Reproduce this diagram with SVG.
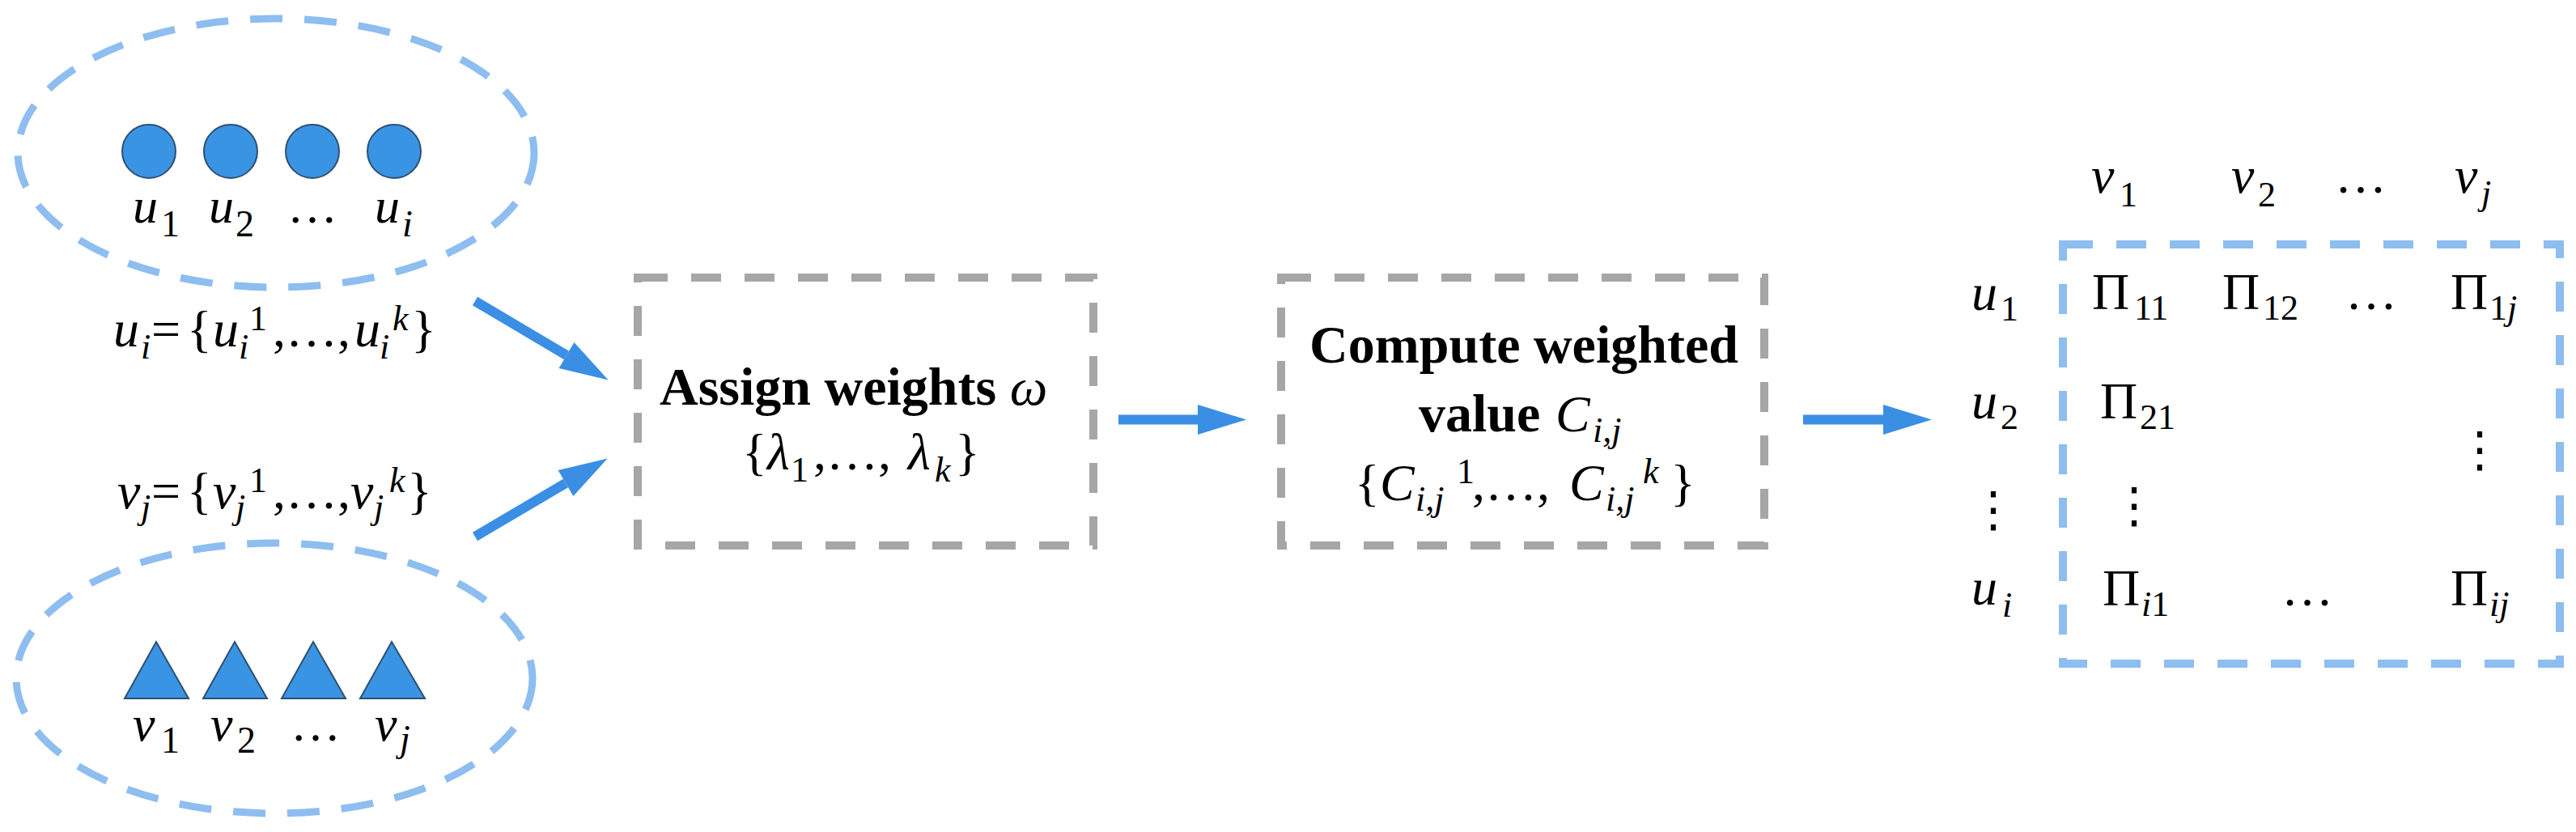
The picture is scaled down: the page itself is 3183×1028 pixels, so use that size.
<svg xmlns="http://www.w3.org/2000/svg" width="3183" height="1028" viewBox="0 0 3183 1028">
<style>
.m{font-family:"Liberation Serif","Times New Roman",serif;font-size:64px;fill:#000}
.it{font-style:italic}
.up{font-style:normal}
.s{font-size:44px}
.lb{font-size:62px}
.ls{font-size:46px}
.b{font-weight:bold;font-size:66px}
.vd{font-family:"DejaVu Serif","DejaVu Sans",serif;font-size:60px;fill:#000}
.set{fill:none;stroke:#8ebdf0;stroke-width:9;stroke-dasharray:40 27}
.box{fill:none;stroke:#a6a6a6;stroke-width:10;stroke-dasharray:37 29}
.mbox{fill:none;stroke:#8ebdf0;stroke-width:10;stroke-dasharray:37 29}
.node{fill:#3a94e4;stroke:#2f4f70;stroke-width:2}
.arr{fill:none;stroke:#3a8fe4;stroke-width:12;marker-end:url(#ah)}
</style>
<defs>
<marker id="ah" markerUnits="userSpaceOnUse" markerWidth="60" markerHeight="37" refX="0" refY="18.5" orient="auto" overflow="visible">
<path d="M0,0 L60,18.5 L0,37 Z" fill="#3a8fe4"/>
</marker>
</defs>
<rect width="3183" height="1028" fill="#fff"/>

<g id="set-u">
<ellipse class="set" cx="341" cy="189" rx="319" ry="166"/>
<circle class="node" cx="184" cy="187" r="33"/>
<circle class="node" cx="285" cy="187" r="33"/>
<circle class="node" cx="386" cy="187" r="33"/>
<circle class="node" cx="487" cy="187" r="33"/>
<text class="m lb it" x="164" y="275">u<tspan class="up ls" x="199" y="292">1</tspan></text>
<text class="m lb it" x="258" y="275">u<tspan class="up ls" x="291" y="292">2</tspan></text>
<text class="m lb" x="386" y="275" text-anchor="middle">…</text>
<text class="m lb it" x="463" y="275">u<tspan class="ls" x="497" y="292">i</tspan></text>
</g>

<g id="formula-u">
<text class="m it" x="140" y="428">u<tspan class="s" x="174" y="443">i</tspan><tspan class="up" x="187" y="428">=</tspan><tspan class="up" x="231">{</tspan><tspan x="263">u</tspan><tspan class="s" x="295" y="443">i</tspan><tspan class="s up" x="308" y="408">1</tspan><tspan class="up" x="337" y="428">,…,</tspan><tspan x="438">u</tspan><tspan class="s" x="469" y="443">i</tspan><tspan class="s" x="485" y="408">k</tspan><tspan class="up" x="508" y="428">}</tspan></text>
</g>

<g id="formula-v">
<text class="m it" x="145" y="628">v<tspan class="s" x="174" y="641">j</tspan><tspan class="up" x="187" y="628">=</tspan><tspan class="up" x="231">{</tspan><tspan x="263">v</tspan><tspan class="s" x="291" y="641">j</tspan><tspan class="s up" x="308" y="608">1</tspan><tspan class="up" x="337" y="628">,…,</tspan><tspan x="433">v</tspan><tspan class="s" x="462" y="641">j</tspan><tspan class="s" x="481" y="608">k</tspan><tspan class="up" x="503" y="628">}</tspan></text>
</g>

<g id="set-v">
<ellipse class="set" cx="339" cy="838" rx="319" ry="167"/>
<polygon class="node" points="193,793 233,863 154,863"/>
<polygon class="node" points="290,793 330,863 251,863"/>
<polygon class="node" points="387,793 427,863 348,863"/>
<polygon class="node" points="484,793 525,863 445,863"/>
<text class="m lb it" x="164" y="915">v<tspan class="up ls" x="199" y="930">1</tspan></text>
<text class="m lb it" x="260" y="915">v<tspan class="up ls" x="293" y="930">2</tspan></text>
<text class="m lb" x="390" y="915" text-anchor="middle">…</text>
<text class="m lb it" x="463" y="915">v<tspan class="ls" x="494" y="928">j</tspan></text>
</g>

<g id="box-assign">
<rect class="box" x="788" y="343" width="563" height="331"/>
<text class="m b" x="815" y="500">Assign weights <tspan font-weight="normal" font-style="italic">ω</tspan></text>
<text class="m" x="917" y="580">{<tspan class="it" x="948">λ</tspan><tspan class="s" x="977" y="595">1</tspan><tspan x="1005" y="580">,…,</tspan><tspan class="it" x="1122">λ</tspan><tspan class="s it" x="1155" y="595">k</tspan><tspan x="1180" y="580">}</tspan></text>
</g>

<g id="box-compute">
<rect class="box" x="1583" y="343" width="597" height="331"/>
<text class="m b" x="1883" y="448" text-anchor="middle">Compute weighted</text>
<text class="m b" x="1753" y="533">value<tspan font-weight="normal" font-size="64px" font-style="italic" x="1922">C</tspan><tspan font-weight="normal" font-size="44px" font-style="italic" x="1968" y="546">i,j</tspan></text>
<text class="m" x="1674" y="618">{<tspan class="it" x="1705">C</tspan><tspan class="s it" x="1749" y="631">i,j</tspan><tspan class="s" x="1800" y="597">1</tspan><tspan x="1819" y="618">,…,</tspan><tspan class="it" x="1939">C</tspan><tspan class="s it" x="1984" y="631">i,j</tspan><tspan class="s it" x="2030" y="597">k</tspan><tspan x="2064" y="618">}</tspan></text>
</g>

<g id="matrix">
<rect class="mbox" x="2549" y="302" width="614" height="518"/>
<text class="m it" x="2584" y="238">v<tspan class="s up" x="2619" y="255">1</tspan></text>
<text class="m it" x="2757" y="238">v<tspan class="s up" x="2790" y="255">2</tspan></text>
<text class="m" x="2917" y="238" text-anchor="middle">…</text>
<text class="m it" x="3033" y="238">v<tspan class="s" x="3066" y="253">j</tspan></text>
<text class="m it" x="2436" y="383">u<tspan class="s up" x="2472" y="396">1</tspan></text>
<text class="m it" x="2436" y="517">u<tspan class="s up" x="2472" y="530">2</tspan></text>
<text class="vd" x="2463" y="650" text-anchor="middle">⋮</text>
<text class="m it" x="2436" y="747">u<tspan class="s" x="2474" y="762">i</tspan></text>
<text class="m" x="2585" y="382">Π<tspan class="s" x="2637" y="395">11</tspan></text>
<text class="m" x="2746" y="382">Π<tspan class="s" x="2796" y="395">12</tspan></text>
<text class="m" x="2930" y="382" text-anchor="middle">…</text>
<text class="m" x="3028" y="382">Π<tspan class="s" x="3076" y="395">1<tspan class="it">j</tspan></tspan></text>
<text class="m" x="2595" y="517">Π<tspan class="s" x="2644" y="530">21</tspan></text>
<text class="vd" x="3064" y="576" text-anchor="middle">⋮</text>
<text class="vd" x="2637" y="645" text-anchor="middle">⋮</text>
<text class="m" x="2598" y="748">Π<tspan class="s" x="2646" y="761"><tspan class="it">i</tspan>1</tspan></text>
<text class="m" x="2851" y="748" text-anchor="middle">…</text>
<text class="m" x="3028" y="748">Π<tspan class="s it" x="3076" y="761">ij</tspan></text>
</g>

<g id="connectors">
<path class="arr" d="M587,372 L700,439"/>
<path class="arr" d="M587,663 L699,597"/>
<path class="arr" d="M1382,518.5 L1480,518.5"/>
<path class="arr" d="M2228,518.5 L2327,518.5"/>
</g>
</svg>
